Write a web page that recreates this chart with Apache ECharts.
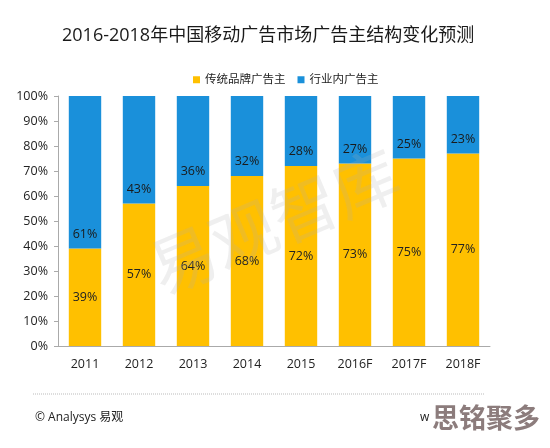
<!DOCTYPE html>
<html><head><meta charset="utf-8">
<script src="https://cdn.jsdelivr.net/npm/echarts@6/dist/echarts.min.js"></script>
<style>html,body{margin:0;padding:0;background:#fff}#c{width:550px;height:448px}</style>
</head><body><div id="c"></div>
<script>
const categories = ['2011','2012','2013','2014','2015','2016F','2017F','2018F'];
const traditional = [39,57,64,68,72,73,75,77];
const industry = [61,43,36,32,28,27,25,23];
const seriesNames = ['传统品牌广告主','行业内广告主'];
const yTicks = [0,10,20,30,40,50,60,70,80,90,100];

const font = '"Open Sans","Noto Sans CJK SC",sans-serif';
const chart = echarts.init(document.getElementById('c'));
chart.setOption({
  animation:false,
  title:{text:'2016-2018年中国移动广告市场广告主结构变化预测',left:57,top:22,
    textStyle:{fontSize:18,fontWeight:'normal',color:'#1a1a1a',fontFamily:font}},
  legend:{top:69,left:188,itemWidth:7,itemHeight:7,itemGap:12,icon:'rect',
    textStyle:{fontSize:11.5,color:'#222',fontFamily:font},data:seriesNames},
  grid:{left:58,right:60,top:96,bottom:102},
  xAxis:{type:'category',data:categories,
    axisLine:{lineStyle:{color:'#aaa'}},axisTick:{show:false},
    axisLabel:{color:'#222',fontSize:12.5,margin:12,fontFamily:font}},
  yAxis:{type:'value',min:0,max:100,interval:10,
    axisLine:{show:true,lineStyle:{color:'#aaa'}},axisTick:{show:true,length:4,lineStyle:{color:'#aaa'}},
    splitLine:{show:false},
    axisLabel:{color:'#222',fontSize:12.5,margin:10,fontFamily:font,formatter:v=>yTicks.includes(v)?v+'%':''}},
  series:[
    {name:seriesNames[0],type:'bar',stack:'s',data:traditional,barWidth:'60%',
     itemStyle:{color:'#FFC000'},
     label:{show:true,position:'inside',formatter:'{c}%',color:'#222',fontSize:12.5,fontFamily:font}},
    {name:seriesNames[1],type:'bar',stack:'s',data:industry,barWidth:'60%',
     itemStyle:{color:'#1A90DA'},
     label:{show:true,position:'insideBottom',distance:8,formatter:'{c}%',color:'#1a1a1a',fontSize:12.5,fontFamily:font}}
  ],
  graphic:[
    {type:'text',x:142,y:248,rotation:0.4,z:100,
     style:{text:'易观智库',fontSize:66,fill:'rgba(175,175,175,0.2)',fontFamily:font}},
    {type:'line',shape:{x1:33,y1:394,x2:485,y2:394},style:{stroke:'#bbb',lineWidth:1,lineDash:[1,1]}},
    {type:'text',left:35,top:412,style:{text:'© Analysys 易观',fontSize:12,fill:'#222',fontFamily:font}},
    {type:'text',left:420,top:412,style:{text:'w',fontSize:12,fill:'#222',fontFamily:font}},
    {type:'text',left:432,top:404,z:200,style:{text:'思铭聚多',fontSize:27,fontWeight:'bold',fill:'#8c7c7c',fontFamily:'"Noto Sans CJK SC",sans-serif'}}
  ]
});
</script></body></html>
